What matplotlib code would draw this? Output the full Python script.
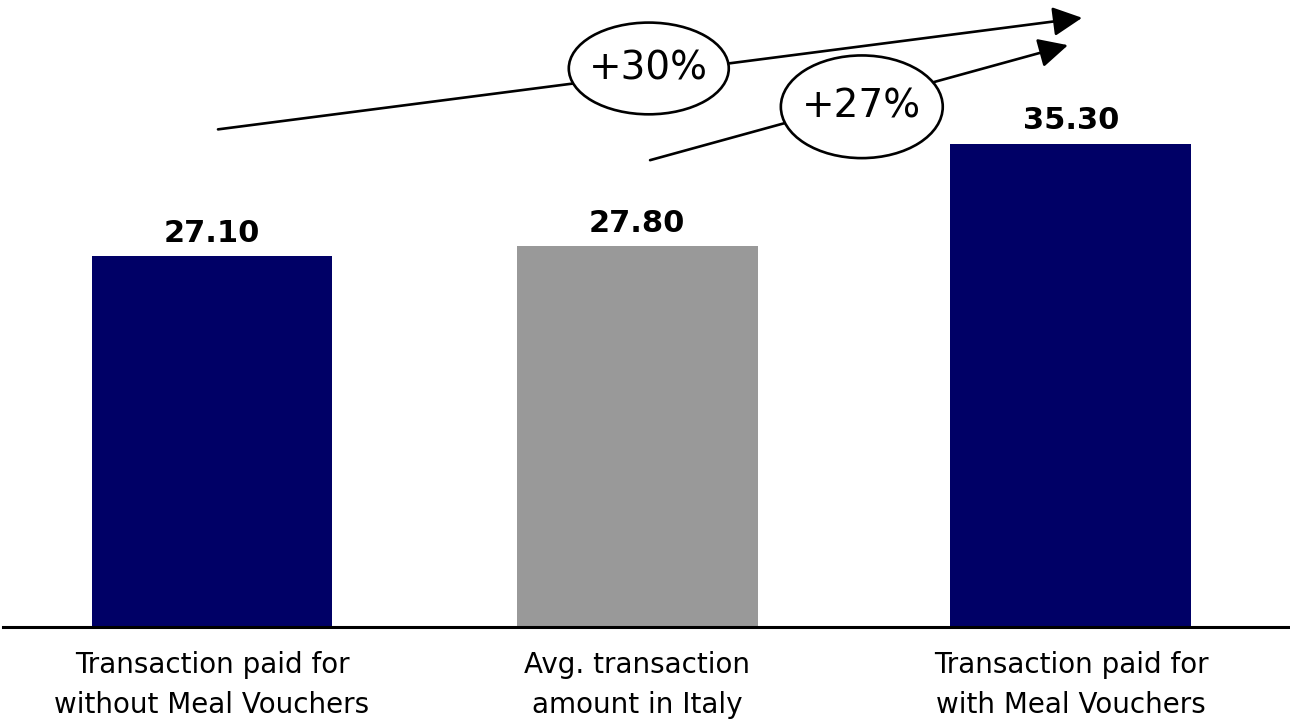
import matplotlib
matplotlib.use('Agg')
import matplotlib.pyplot as plt
from matplotlib.patches import Ellipse

# data
categories = ['Transaction paid for\nwithout Meal Vouchers',
              'Avg. transaction\namount in Italy',
              'Transaction paid for\nwith Meal Vouchers']
values = [27.10, 27.80, 35.30]
colors = ['#000066', '#999999', '#000066']
growth_labels = ['+30%', '+27%']

plt.rcParams['font.family'] = ['DejaVu Sans']

fig = plt.figure(figsize=(12.9, 7.19), dpi=100)
ax = fig.add_axes([3 / 1290, 92 / 719, 1287 / 1290, 627 / 719])

x = [0, 0.99, 2]
ax.bar(x, values, width=0.561, color=colors, zorder=2)

for xi, v in zip(x, values):
    ax.annotate(f'{v:.2f}', (xi, v), xytext=(0, 6), textcoords='offset points',
                ha='center', va='bottom', fontsize=22, fontweight='bold', color='black')

ax.set_xlim(-0.4866, 2.51)
ax.set_ylim(0, 45.8)

for s in ['top', 'right', 'left']:
    ax.spines[s].set_visible(False)
ax.spines['bottom'].set_linewidth(2.2)
ax.set_yticks([])
ax.set_xticks(x)
ax.set_xticklabels(categories, fontsize=20, color='black', linespacing=1.55)
ax.tick_params(axis='x', length=0, pad=17)

# growth arrows
arrows = [((0.014, 36.35), (2.026, 44.5)),
          ((1.02, 34.1), (1.993, 42.5))]
for (x0, y0), (x1, y1) in arrows:
    ax.annotate('', xy=(x1, y1), xytext=(x0, y0),
                arrowprops=dict(arrowstyle='-|>,head_length=0.9,head_width=0.45',
                                mutation_scale=20, color='black', lw=1.9,
                                shrinkA=0, shrinkB=0),
                annotation_clip=False, zorder=3)

ellipses = [((1.017, 40.8), 0.3725, 6.7),
            ((1.513, 38.0), 0.377, 7.5)]
for ((cx, cy), w, h), lab in zip(ellipses, growth_labels):
    ax.add_patch(Ellipse((cx, cy), w, h, facecolor='white', edgecolor='black',
                         lw=1.9, zorder=4, clip_on=False))
    ax.text(cx, cy, lab, ha='center', va='center', fontsize=28, zorder=5)

fig.savefig('out.png', dpi=100)
